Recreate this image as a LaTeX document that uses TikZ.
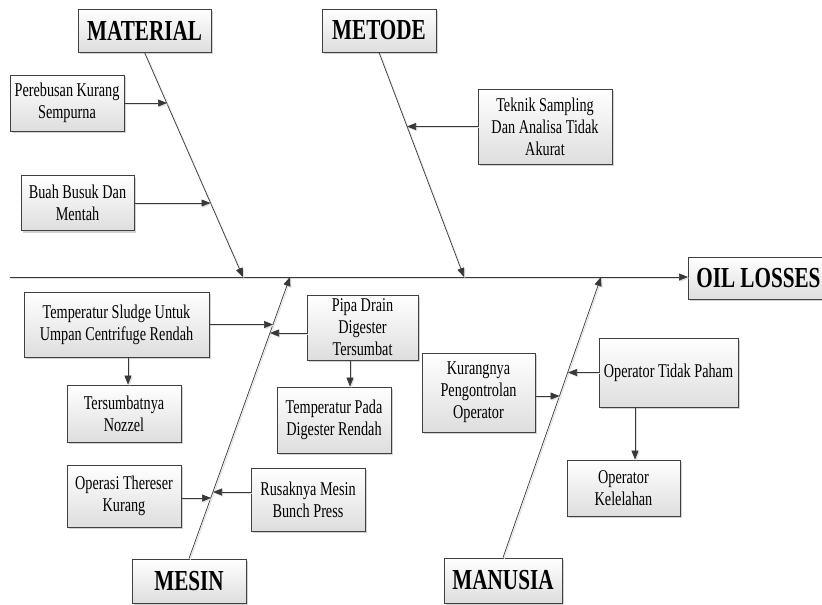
\documentclass[tikz,border=0pt]{standalone}
\usepackage{fontspec}
\setmainfont[FakeStretch=0.73]{Liberation Serif}
\usetikzlibrary{arrows.meta,shadows,calc}
\begin{document}
\begin{tikzpicture}[x=1pt,y=-1pt,
  box/.style={draw=black!75, line width=0.8pt, top color=white, bottom color=black!13,
    drop shadow={shadow xshift=2pt,shadow yshift=-2pt,fill=black!35,opacity=0.5},
    align=center, inner sep=1pt, font=\fontsize{19.5}{22}\selectfont},
  head/.style={box, font=\fontsize{29}{32}\selectfont\bfseries},
  ln/.style={draw=black!78, line width=0.7pt,
    preaction={draw=black!12, line width=0.9pt, transform canvas={shift={(1.2pt,-1.2pt)}}}},
  arr/.style={ln, -{Triangle[length=9pt,width=7pt]}},
]
\useasboundingbox (0,0) rectangle (822,605);

% heads
\node[head, minimum width=133, minimum height=43] (mat) at (144.5,30.5) {MATERIAL};
\node[head, minimum width=114, minimum height=43] (met) at (379,30.5) {METODE};
\node[head, minimum width=114, minimum height=44] (mes) at (189,581) {MESIN};
\node[head, minimum width=118, minimum height=45] (man) at (503,580.5) {MANUSIA};
\node[head, minimum width=140, minimum height=42, anchor=west] (oil) at (688,278) {OIL LOSSES};

% causes
\node[box, minimum width=114, minimum height=56] (per) at (67,103) {Perebusan Kurang\\Sempurna};
\node[box, minimum width=113, minimum height=55] (buah) at (77.5,203) {Buah Busuk Dan\\Mentah};
\node[box, minimum width=134, minimum height=75] (tek) at (545,126.5) {Teknik Sampling\\Dan Analisa Tidak\\Akurat};
\node[box, minimum width=185, minimum height=65] (slu) at (116.5,324.5) {Temperatur Sludge Untuk\\Umpan Centrifuge Rendah};
\node[box, minimum width=111, minimum height=65] (pipa) at (362.5,327.5) {Pipa Drain\\Digester\\Tersumbat};
\node[box, minimum width=114, minimum height=57] (tsum) at (124,413.5) {Tersumbatnya\\Nozzel};
\node[box, minimum width=114, minimum height=66] (tpada) at (334,420) {Temperatur Pada\\Digester Rendah};
\node[box, minimum width=114, minimum height=62] (ops) at (124,496) {Operasi Thereser\\Kurang};
\node[box, minimum width=114, minimum height=63] (rus) at (308,499.5) {Rusaknya Mesin\\Bunch Press};
\node[box, minimum width=113, minimum height=79] (kur) at (478.5,392.5) {Kurangnya\\Pengontrolan\\Operator};
\node[box, minimum width=139, minimum height=69] (otp) at (668.5,372.5) {Operator Tidak Paham};
\node[box, minimum width=113, minimum height=56] (kel) at (623.5,488) {Operator\\Kelelahan};

% spine and bones
\coordinate (sL) at (10,277);
\coordinate (sm) at (243,277);
\coordinate (st) at (464,277);
\coordinate (sz) at (290,277);
\coordinate (sh) at (601,277);
\draw[arr] (sL) -- (sL -| oil.west);
\draw[arr] (mat.south) -- (sm);
\draw[arr] (met.south) -- (st);
\draw[arr] (mes.north) -- (sz);
\draw[arr] (man.north) -- (sh);

% attachment points
\coordinate (m1) at (167,103);
\coordinate (m2) at (210.5,203);
\coordinate (t1) at (407,126.5);
\coordinate (z1) at (273,324.5);
\coordinate (z2) at (270,333);
\coordinate (z3) at (211,498);
\coordinate (z4) at (213,492);
\coordinate (h1) at (559.5,396);
\coordinate (h2) at (568,372.5);

\draw[arr] (per.east) -- (m1);
\draw[arr] (buah.east) -- (m2);
\draw[arr] (tek.west) -- (t1);
\draw[arr] (slu.east) -- (z1);
\draw[arr] (pipa.west |- z2) -- (z2);
\draw[arr] (ops.east |- z3) -- (z3);
\draw[arr] (rus.west |- z4) -- (z4);
\draw[arr] (kur.east |- h1) -- (h1);
\draw[arr] (otp.west) -- (h2);

\draw[arr] ($(tsum.north |- slu.south)+(4,0)$) -- ($(tsum.north)+(4,0)$);
\draw[arr] ($(tpada.north |- pipa.south)+(16,0)$) -- ($(tpada.north)+(16,0)$);
\draw[arr] ($(kel.north |- otp.south)+(11.5,0)$) -- ($(kel.north)+(11.5,0)$);
\end{tikzpicture}
\end{document}
